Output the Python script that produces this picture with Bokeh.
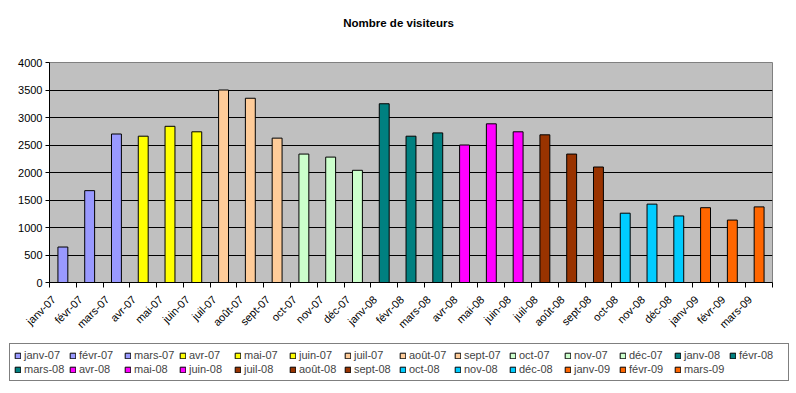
from bokeh.plotting import figure
from bokeh.layouts import column
from bokeh.models import ColumnDataSource, Range1d, FixedTicker, Legend, LegendItem
from bokeh.core.properties import value
from bokeh.embed import file_html
from bokeh.resources import INLINE

title_text = "Nombre de visiteurs"
months = ["janv-07", "févr-07", "mars-07", "avr-07", "mai-07", "juin-07",
          "juil-07", "août-07", "sept-07", "oct-07", "nov-07", "déc-07",
          "janv-08", "févr-08", "mars-08", "avr-08", "mai-08", "juin-08",
          "juil-08", "août-08", "sept-08", "oct-08", "nov-08", "déc-08",
          "janv-09", "févr-09", "mars-09"]
visits = [645, 1670, 2700, 2660, 2840, 2740,
          3500, 3350, 2625, 2335, 2280, 2040,
          3250, 2660, 2720, 2500, 2885, 2740,
          2685, 2335, 2100, 1260, 1425, 1210,
          1360, 1135, 1375]
quarter_colors = ["#9999FF", "#FFFF00", "#FFCC99", "#CCFFCC", "#008080",
                  "#FF00FF", "#993300", "#00CCFF", "#FF6600"]
colors = [quarter_colors[i // 3] for i in range(len(months))]
y_ticks = list(range(0, 4001, 500))

FONT = "Liberation Sans"
W = 796
n = len(months)
SHIFT = 0.34  # bars sit right of their label anchor, as in the reference
xs = list(range(n))
bar_x = [i + SHIFT for i in xs]
src = ColumnDataSource(dict(x=bar_x, visits=visits, color=colors, month=months))


def strip(height, x_range, y_range):
    f = figure(width=W, height=height, output_backend="svg", toolbar_location=None,
               x_range=x_range, y_range=y_range,
               min_border_left=0, min_border_right=0, min_border_top=0,
               min_border_bottom=0, x_axis_type=None, y_axis_type=None)
    f.frame_align = False
    f.outline_line_color = None
    f.background_fill_color = "white"
    f.border_fill_color = "white"
    f.xgrid.visible = False
    f.ygrid.visible = False
    return f


# --- title strip ---
tf = strip(40, Range1d(0, W), Range1d(40, 0))
tf.text(x=[W / 2], y=[22], text=[title_text], text_align="center",
        text_baseline="middle", text_font=value(FONT), text_font_size="11.5px",
        text_font_style="bold", text_color="black")

# --- main chart ---
p = figure(width=W, height=300, output_backend="svg", toolbar_location=None,
           x_range=Range1d(SHIFT - 0.5, n - 0.5 + SHIFT), y_range=Range1d(0, 4000),
           min_border_left=49, min_border_right=24, min_border_top=22,
           min_border_bottom=58)
p.frame_align = False

p.background_fill_color = "#C0C0C0"
p.border_fill_color = "white"
p.outline_line_color = "#808080"
p.xgrid.visible = False
p.ygrid.grid_line_color = "black"
p.ygrid.grid_line_width = 1

r = p.vbar(x="x", top="visits", width=0.37, fill_color="color",
           line_color="black", line_width=1, source=src)

p.xaxis.ticker = FixedTicker(ticks=xs, minor_ticks=[i - 0.5 + SHIFT for i in range(n + 1)])
p.xaxis.major_label_overrides = {i: m for i, m in enumerate(months)}
p.xaxis.major_tick_line_color = None
p.xaxis.minor_tick_out = 5
p.xaxis.minor_tick_in = 0
p.xaxis.minor_tick_line_color = "black"
p.xaxis.axis_line_color = "black"
p.xaxis.major_label_orientation = 0.785398
p.xaxis.major_label_text_font = FONT
p.xaxis.major_label_text_font_size = "11px"
p.xaxis.major_label_text_color = "black"
p.xaxis.major_label_standoff = 9

p.yaxis.ticker = FixedTicker(ticks=y_ticks)
p.yaxis.major_tick_out = 4
p.yaxis.major_tick_in = 0
p.yaxis.minor_tick_line_color = None
p.yaxis.axis_line_color = "black"
p.yaxis.major_tick_line_color = "black"
p.yaxis.major_label_text_font = FONT
p.yaxis.major_label_text_font_size = "11px"
p.yaxis.major_label_text_color = "black"
p.yaxis.major_label_standoff = 3

# --- legend strip: a hidden copy of the bars supplies the swatches ---
lf = strip(53, Range1d(-100001, -100000), Range1d(-100001, -100000))
lr = lf.vbar(x="x", top="visits", width=0.37, fill_color="color",
             line_color="black", line_width=1, source=src)
lr.visible = False

items = [LegendItem(label=m, renderers=[lr], index=i) for i, m in enumerate(months)]
legend = Legend(items=items, orientation="horizontal", ncols=14, location=(9, 12),
                glyph_width=7, glyph_height=7, label_standoff=3,
                label_width=45, label_height=14,
                label_text_font=FONT, label_text_font_size="11px",
                spacing=0, padding=4, margin=0,
                inactive_fill_alpha=0,
                border_line_color="black", border_line_width=1,
                background_fill_color="white", background_fill_alpha=1)
lf.add_layout(legend)

layout = column(tf, p, lf, spacing=0)
open("out.html", "w").write(file_html(layout, INLINE))
